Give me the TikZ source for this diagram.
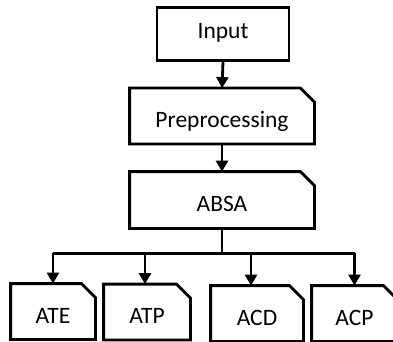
\documentclass[tikz,border=0pt]{standalone}
\usepackage{fontspec}
\setmainfont{Carlito}
\usetikzlibrary{arrows.meta}
\begin{document}
\begin{tikzpicture}[x=1pt,y=-1pt,line width=2.8pt,>={Triangle[length=11pt,width=12pt]},
    box/.style={minimum height=53pt,inner sep=0pt,text height=23pt,text depth=0pt,
      font=\fontsize{23.5}{28}\selectfont}]
  \useasboundingbox (0,0) rectangle (393,342);

  % Top of the chain
  \node[box,draw,minimum width=132pt,text height=15pt,text depth=6pt] (input) at (223,34) {Input};
  \node[box,minimum width=182pt] (prep) at (222,116) {Preprocessing};
  \node[box,minimum width=182pt,minimum height=54pt] (absa) at (222,200) {ABSA};

  % Four subtasks
  \node[box,minimum width=82pt] (ate) at (53,311.5) {ATE};
  \node[box,minimum width=84pt] (atp) at (147,312) {ATP};
  \node[box,minimum width=90pt] (acd) at (257,313.5) {ACD};
  \node[box,minimum width=83pt] (acp) at (354.5,313.5) {ACP};

  % Boxes with a cut corner
  \foreach \n in {prep,absa,ate,atp,acd,acp}
    \draw (\n.south west) -- (\n.north west) -- ([xshift=-14pt]\n.north east)
      -- ([yshift=-14pt]\n.north east) -- (\n.south east) -- cycle;

  % Arrows
  \draw[->] (input.south) -- (prep.north);
  \draw[->] (prep.south) -- (absa.north);
  \draw (absa.south) -- ++(0,25) coordinate (fork);
  \draw (fork -| ate.north) -- (fork -| acp.north);
  \draw[->] (fork -| ate.north) -- (ate.north);
  \draw[->] ([xshift=-2pt]fork -| atp.north) -- ([xshift=-2pt]atp.north);
  \draw[->] ([xshift=-6pt]fork -| acd.north) -- ([xshift=-6pt]acd.north);
  \draw[->] (fork -| acp.north) -- (acp.north);
\end{tikzpicture}
\end{document}
